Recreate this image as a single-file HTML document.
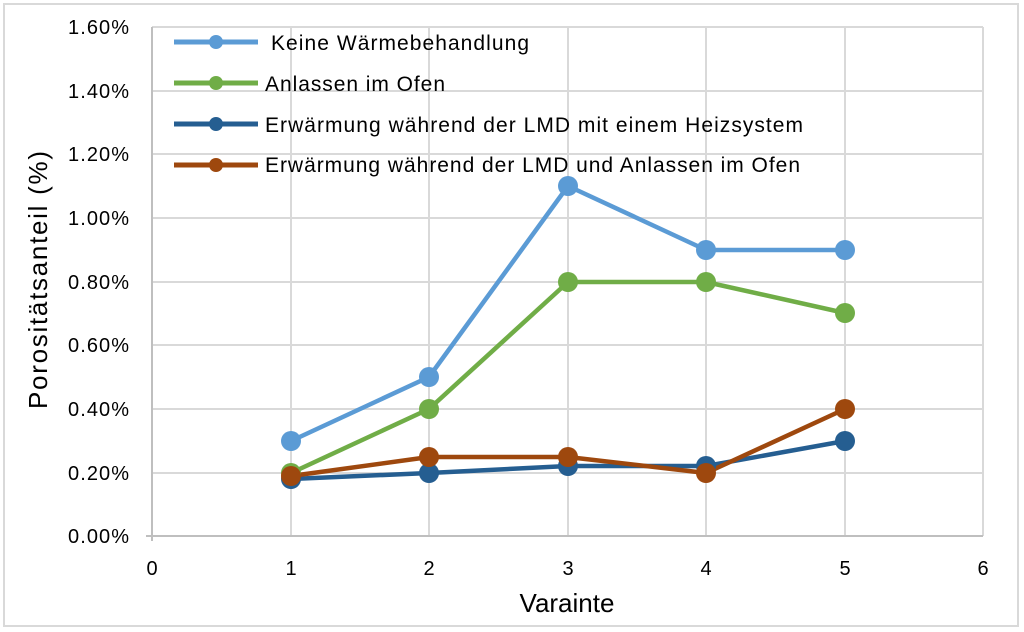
<!DOCTYPE html>
<html><head><meta charset="utf-8"><style>body{margin:0;background:#fff}svg{display:block;font-family:"Liberation Sans",sans-serif}</style></head><body>
<svg width="1024" height="632" viewBox="0 0 1024 632">
<rect x="4" y="4" width="1014" height="622" fill="#fff" stroke="#d9d9d9" stroke-width="2"/>
<g stroke="#d9d9d9" stroke-width="2">
<line x1="152" y1="27" x2="983" y2="27"/><line x1="152" y1="91" x2="983" y2="91"/><line x1="152" y1="154" x2="983" y2="154"/><line x1="152" y1="218" x2="983" y2="218"/><line x1="152" y1="282" x2="983" y2="282"/><line x1="152" y1="345" x2="983" y2="345"/><line x1="152" y1="409" x2="983" y2="409"/><line x1="152" y1="473" x2="983" y2="473"/>
<line x1="291" y1="27" x2="291" y2="536"/><line x1="429" y1="27" x2="429" y2="536"/><line x1="568" y1="27" x2="568" y2="536"/><line x1="706" y1="27" x2="706" y2="536"/><line x1="845" y1="27" x2="845" y2="536"/><line x1="983" y1="27" x2="983" y2="536"/>
</g>
<g stroke="#bfbfbf" stroke-width="2">
<line x1="152" y1="27" x2="152" y2="541"/><line x1="146" y1="536" x2="983" y2="536"/>
</g>
<g font-size="20" fill="#000">
<text x="68" y="34" textLength="61">1.60%</text><text x="68" y="98" textLength="61">1.40%</text><text x="68" y="161" textLength="61">1.20%</text><text x="68" y="225" textLength="61">1.00%</text><text x="68" y="289" textLength="61">0.80%</text><text x="68" y="352" textLength="61">0.60%</text><text x="68" y="416" textLength="61">0.40%</text><text x="68" y="480" textLength="61">0.20%</text><text x="68" y="543" textLength="61">0.00%</text>
</g>
<g font-size="20" text-anchor="middle">
<text x="152" y="575">0</text><text x="291" y="575">1</text><text x="429" y="575">2</text><text x="568" y="575">3</text><text x="706" y="575">4</text><text x="845" y="575">5</text><text x="983" y="575">6</text>
</g>
<text x="567" y="612" font-size="26" text-anchor="middle">Varainte</text>
<text transform="translate(47,280) rotate(-90)" font-size="26" text-anchor="middle" textLength="258">Porositätsanteil (%)</text>
<g fill="none" stroke-width="4.5" stroke-linejoin="round">
<polyline stroke="#5b9bd5" points="291,441 429,377 568,186 706,250 845,250"/>
<polyline stroke="#70ad47" points="291,473 429,409 568,282 706,282 845,313"/>
<polyline stroke="#255e91" points="291,479 429,473 568,466 706,466 845,441"/>
<polyline stroke="#9e480e" points="291,476 429,457 568,457 706,473 845,409"/>
</g>
<g fill="#5b9bd5"><circle cx="291" cy="441" r="10"/><circle cx="429" cy="377" r="10"/><circle cx="568" cy="186" r="10"/><circle cx="706" cy="250" r="10"/><circle cx="845" cy="250" r="10"/></g>
<g fill="#70ad47"><circle cx="291" cy="473" r="10"/><circle cx="429" cy="409" r="10"/><circle cx="568" cy="282" r="10"/><circle cx="706" cy="282" r="10"/><circle cx="845" cy="313" r="10"/></g>
<g fill="#255e91"><circle cx="291" cy="479" r="10"/><circle cx="429" cy="473" r="10"/><circle cx="568" cy="466" r="10"/><circle cx="706" cy="466" r="10"/><circle cx="845" cy="441" r="10"/></g>
<g fill="#9e480e"><circle cx="291" cy="476" r="10"/><circle cx="429" cy="457" r="10"/><circle cx="568" cy="457" r="10"/><circle cx="706" cy="473" r="10"/><circle cx="845" cy="409" r="10"/></g>
<g stroke-width="5">
<line x1="174" y1="42" x2="258" y2="42" stroke="#5b9bd5"/><circle cx="216" cy="42" r="7" fill="#5b9bd5"/>
<line x1="174" y1="83" x2="258" y2="83" stroke="#70ad47"/><circle cx="216" cy="83" r="7" fill="#70ad47"/>
<line x1="174" y1="124" x2="258" y2="124" stroke="#255e91"/><circle cx="216" cy="124" r="7" fill="#255e91"/>
<line x1="174" y1="165" x2="258" y2="165" stroke="#9e480e"/><circle cx="216" cy="165" r="7" fill="#9e480e"/>
</g>
<g font-size="21">
<text x="271" y="50" textLength="258">Keine Wärmebehandlung</text>
<text x="265" y="91" textLength="180">Anlassen im Ofen</text>
<text x="265" y="132" textLength="538">Erwärmung während der LMD mit einem Heizsystem</text>
<text x="265" y="172" textLength="535">Erwärmung während der LMD und Anlassen im Ofen</text>
</g>
</svg>
</body></html>
